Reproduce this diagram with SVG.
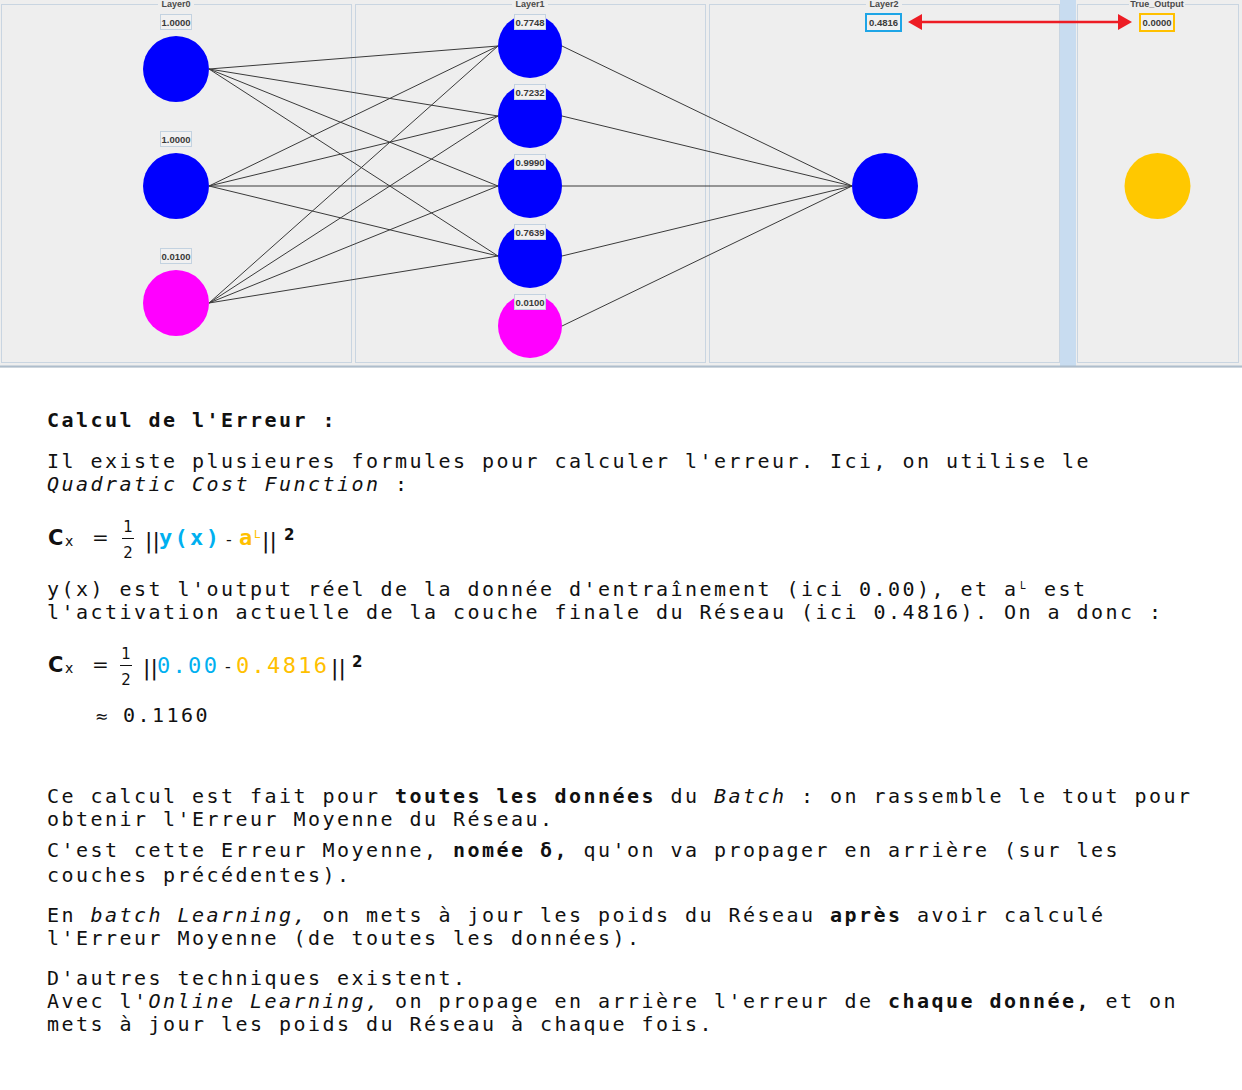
<svg xmlns="http://www.w3.org/2000/svg" width="1242" height="1090" viewBox="0 0 1242 1090">
<style>
.panel{fill:#eeeeee;stroke:#c9d5e1;stroke-width:1}
.ttl{font-family:"Liberation Sans",Arial,sans-serif;font-size:9px;font-weight:bold;fill:#4a4a4a;text-anchor:middle}
.vbox{fill:#f1f1f1;stroke:#c3d2e0;stroke-width:1}
.val{font-family:"Liberation Sans",Arial,sans-serif;font-size:9.5px;font-weight:bold;fill:#3a3a3a;text-anchor:middle}
.blue{fill:#0000ff}.mag{fill:#ff00ff}.gold{fill:#ffc800}
.edge{stroke:#3a3a3a;stroke-width:1;fill:none}
.t{font-family:"DejaVu Sans Mono","Liberation Mono",monospace;font-size:20px;letter-spacing:2.46px;fill:#111}
.big{font-size:22px;letter-spacing:2.3px}
.b{font-weight:bold}.i{font-style:italic}
.f{font-family:"DejaVu Sans","Liberation Sans",sans-serif;fill:#111}
.cy{fill:#00b0f0}.cg{fill:#ffc000}
</style>
<defs>
<marker id="ah" viewBox="0 0 14 16" refX="7" refY="8" markerWidth="14" markerHeight="16" markerUnits="userSpaceOnUse" orient="auto-start-reverse"><path d="M0,0 L14,8 L0,16 z" fill="#ed1c24"/></marker>
</defs>
<rect x="0" y="0" width="1242" height="368" fill="#eeeeee"/>
<rect x="1060" y="0" width="16" height="366" fill="#c8dcf0"/>
<line x1="0" y1="366.5" x2="1242" y2="366.5" stroke="#aebdcc" stroke-width="2"/>
<rect class="panel" x="1.5" y="4.5" width="350" height="358"/>
<rect class="panel" x="355.5" y="4.5" width="350" height="358"/>
<rect class="panel" x="709.5" y="4.5" width="350" height="358"/>
<rect class="panel" x="1077.5" y="4.5" width="161" height="358"/>
<g id="titles">
<rect x="158" y="0" width="36" height="9" fill="#eeeeee"/><text class="ttl" x="176" y="7">Layer0</text>
<rect x="512" y="0" width="36" height="9" fill="#eeeeee"/><text class="ttl" x="530" y="7">Layer1</text>
<rect x="866" y="0" width="36" height="9" fill="#eeeeee"/><text class="ttl" x="884" y="7">Layer2</text>
<rect x="1129" y="0" width="56" height="9" fill="#eeeeee"/><text class="ttl" x="1157" y="7">True_Output</text>
</g>
<g id="connectors">
<line class="edge" x1="209" y1="69" x2="498" y2="46"/><line class="edge" x1="209" y1="69" x2="498" y2="116"/><line class="edge" x1="209" y1="69" x2="498" y2="186"/><line class="edge" x1="209" y1="69" x2="498" y2="256"/>
<line class="edge" x1="209" y1="186" x2="498" y2="46"/><line class="edge" x1="209" y1="186" x2="498" y2="116"/><line class="edge" x1="209" y1="186" x2="498" y2="186"/><line class="edge" x1="209" y1="186" x2="498" y2="256"/>
<line class="edge" x1="209" y1="303" x2="498" y2="46"/><line class="edge" x1="209" y1="303" x2="498" y2="116"/><line class="edge" x1="209" y1="303" x2="498" y2="186"/><line class="edge" x1="209" y1="303" x2="498" y2="256"/>
<line class="edge" x1="562" y1="46" x2="852" y2="186"/><line class="edge" x1="562" y1="116" x2="852" y2="186"/><line class="edge" x1="562" y1="186" x2="852" y2="186"/><line class="edge" x1="562" y1="256" x2="852" y2="186"/><line class="edge" x1="562" y1="326" x2="852" y2="186"/>
<line x1="915" y1="22" x2="1125" y2="22" stroke="#ed1c24" stroke-width="2.5" marker-start="url(#ah)" marker-end="url(#ah)"/>
</g>
<g id="n0_0"><circle class="blue" cx="176" cy="69" r="33"/><rect class="vbox" x="160.5" y="14.5" width="31" height="15"/><text class="val" x="176" y="25.5">1.0000</text></g>
<g id="n0_1"><circle class="blue" cx="176" cy="186" r="33"/><rect class="vbox" x="160.5" y="131.5" width="31" height="15"/><text class="val" x="176" y="142.5">1.0000</text></g>
<g id="n0_2"><circle class="mag" cx="176" cy="303" r="33"/><rect class="vbox" x="160.5" y="248.5" width="31" height="15"/><text class="val" x="176" y="259.5">0.0100</text></g>
<g id="n1_0"><circle class="blue" cx="530" cy="46" r="32"/><rect class="vbox" x="514.5" y="14.5" width="31" height="15"/><text class="val" x="530" y="25.5">0.7748</text></g>
<g id="n1_1"><circle class="blue" cx="530" cy="116" r="32"/><rect class="vbox" x="514.5" y="84.5" width="31" height="15"/><text class="val" x="530" y="95.5">0.7232</text></g>
<g id="n1_2"><circle class="blue" cx="530" cy="186" r="32"/><rect class="vbox" x="514.5" y="154.5" width="31" height="15"/><text class="val" x="530" y="165.5">0.9990</text></g>
<g id="n1_3"><circle class="blue" cx="530" cy="256" r="32"/><rect class="vbox" x="514.5" y="224.5" width="31" height="15"/><text class="val" x="530" y="235.5">0.7639</text></g>
<g id="n1_4"><circle class="mag" cx="530" cy="326" r="32"/><rect class="vbox" x="514.5" y="294.5" width="31" height="15"/><text class="val" x="530" y="305.5">0.0100</text></g>
<g id="n2_0"><circle class="blue" cx="885" cy="186" r="33"/><rect x="866" y="14" width="35" height="17" fill="#f1f1f1" stroke="#1ea5e6" stroke-width="2"/><text class="val" x="883.5" y="25.5">0.4816</text></g>
<g id="true_out"><circle class="gold" cx="1157.5" cy="186" r="33"/><rect x="1140" y="14" width="34" height="17" fill="#f1f1f1" stroke="#ffc000" stroke-width="2"/><text class="val" x="1157" y="25.5">0.0000</text></g>
<rect x="0" y="368" width="1242" height="722" fill="#ffffff"/>
<g id="text">
<text class="t b" x="47" y="427">Calcul de l'Erreur :</text>
<text class="t" x="47" y="468">Il existe plusieures formules pour calculer l'erreur. Ici, on utilise le</text>
<text class="t" x="47" y="491"><tspan class="i">Quadratic Cost Function</tspan> :</text>
<text class="t" x="47" y="596">y(x) est l'output réel de la donnée d'entraînement (ici 0.00), et a</text>
<text class="f" x="1020" y="589" style="font-size:10px">L</text>
<text class="t" x="1044" y="596">est</text>
<text class="t" x="47" y="619">l'activation actuelle de la couche finale du Réseau (ici 0.4816). On a donc :</text>
<text class="t" x="47" y="803">Ce calcul est fait pour <tspan class="b">toutes les données</tspan> du <tspan class="i">Batch</tspan> : on rassemble le tout pour</text>
<text class="t" x="47" y="826">obtenir l'Erreur Moyenne du Réseau.</text>
<text class="t" x="47" y="857">C'est cette Erreur Moyenne, <tspan class="b">nomée δ,</tspan> qu'on va propager en arrière (sur les</text>
<text class="t" x="47" y="882">couches précédentes).</text>
<text class="t" x="47" y="922">En <tspan class="i">batch Learning,</tspan> on mets à jour les poids du Réseau <tspan class="b">après</tspan> avoir calculé</text>
<text class="t" x="47" y="945">l'Erreur Moyenne (de toutes les données).</text>
<text class="t" x="47" y="985">D'autres techniques existent.</text>
<text class="t" x="47" y="1008">Avec l'<tspan class="i">Online Learning,</tspan> on propage en arrière l'erreur de <tspan class="b">chaque donnée,</tspan> et on</text>
<text class="t" x="47" y="1031">mets à jour les poids du Réseau à chaque fois.</text>
</g>
<g id="formula1">
<text class="f" x="48" y="545" font-size="21" font-weight="bold">C</text>
<text class="f" x="65" y="546" font-size="14">x</text>
<text class="f" x="92" y="544" font-size="20">=</text>
<text class="f" x="128" y="532" font-size="15" text-anchor="middle">1</text>
<line x1="122" y1="538.5" x2="134" y2="538.5" stroke="#111" stroke-width="1"/>
<text class="f" x="128" y="558" font-size="15" text-anchor="middle">2</text>
<text class="f" x="145" y="548" font-size="22">||</text>
<text class="t big b cy" x="159" y="545">y(x)</text>
<text class="f" x="226" y="545" font-size="16">-</text>
<text class="t big b cg" x="239" y="545">a</text>
<text class="f cg" x="254" y="538" font-size="11">L</text>
<text class="f" x="262" y="548" font-size="22">||</text>
<text class="f" x="284" y="540" font-size="15" font-weight="bold">2</text>
</g>
<g id="formula2">
<text class="f" x="48" y="672" font-size="21" font-weight="bold">C</text>
<text class="f" x="65" y="673" font-size="14">x</text>
<text class="f" x="92" y="671" font-size="20">=</text>
<text class="f" x="126" y="659" font-size="15" text-anchor="middle">1</text>
<line x1="120" y1="665.5" x2="132" y2="665.5" stroke="#111" stroke-width="1"/>
<text class="f" x="126" y="685" font-size="15" text-anchor="middle">2</text>
<text class="f" x="143" y="675" font-size="22">||</text>
<text class="t big cy" x="157" y="673">0.00</text>
<text class="f" x="225" y="672" font-size="16">-</text>
<text class="t big cg" x="236" y="673">0.4816</text>
<text class="f" x="331" y="675" font-size="22">||</text>
<text class="f" x="352" y="667" font-size="15" font-weight="bold">2</text>
<text class="f" x="95" y="722" font-size="16">≈</text>
<text class="t" x="123" y="722">0.1160</text>
</g>
</svg>
